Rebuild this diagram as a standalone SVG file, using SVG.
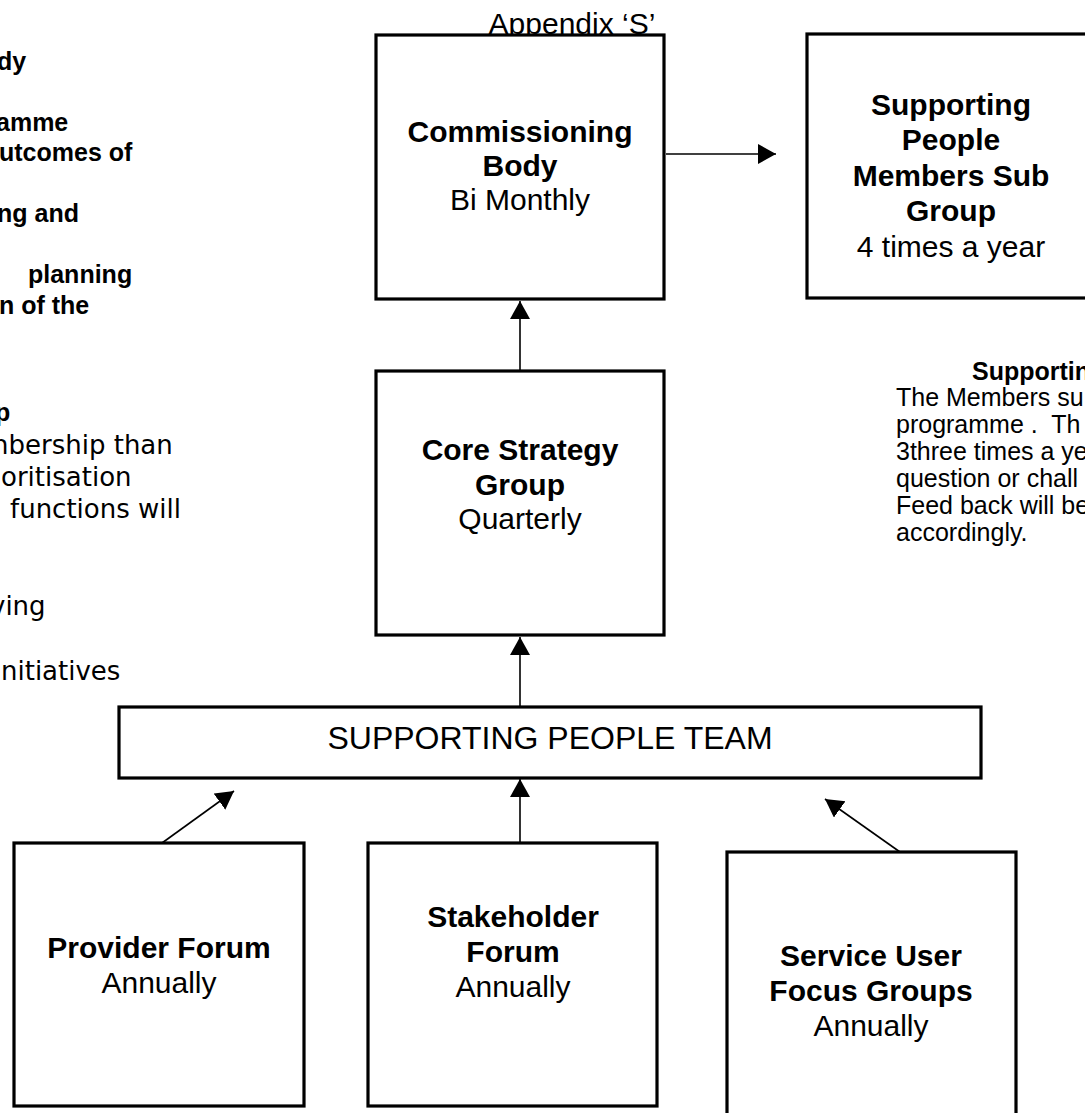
<svg xmlns="http://www.w3.org/2000/svg" width="1085" height="1113" viewBox="0 0 1085 1113">
<defs>
<style>
.box{fill:#fff;stroke:#000;stroke-width:3.2}
.con{fill:none;stroke:#000;stroke-width:1.6}
.h{font-family:"Liberation Sans",Arial,sans-serif;font-weight:bold;font-size:30px;fill:#000;text-anchor:middle}
.r{font-family:"Liberation Sans",Arial,sans-serif;font-size:30px;fill:#000;text-anchor:middle}
.lb{font-family:"Liberation Sans",Arial,sans-serif;font-weight:bold;font-size:25px;fill:#000}
.lr{font-family:"DejaVu Sans",Verdana,sans-serif;font-size:26px;fill:#000}
.rr{font-family:"Liberation Sans",Arial,sans-serif;font-size:25px;fill:#000}
</style>
<marker id="ah" markerUnits="userSpaceOnUse" markerWidth="20" markerHeight="22" refX="18" refY="10" orient="auto">
<path d="M0,0 L18,10 L0,20 Z" fill="#000"/>
</marker>
</defs>
<rect width="1085" height="1113" fill="#fff"/>

<g id="left-text">
<text class="lb" x="-3" y="70">dy</text>
<text class="lb" x="-4" y="131">amme</text>
<text class="lb" x="-1" y="161">utcomes of</text>
<text class="lb" x="-3" y="222">ng and</text>
<text class="lb" x="28" y="283">planning</text>
<text class="lb" x="-1" y="314">n of the</text>
<text class="lb" x="-5" y="421">p</text>
<text class="lr" x="-8" y="454">nbership than</text>
<text class="lr" x="1" y="486">oritisation</text>
<text class="lr" x="10" y="518">functions will</text>
<text class="lr" x="-10" y="615">ving</text>
<text class="lr" x="1" y="680">nitiatives</text>
</g>

<g id="right-text">
<text class="lb" x="972" y="380">Supportin</text>
<text class="rr" x="896" y="406">The Members su</text>
<text class="rr" x="896" y="433" xml:space="preserve">programme .  Th</text>
<text class="rr" x="896" y="460">3three times a ye</text>
<text class="rr" x="896" y="487">question or chall</text>
<text class="rr" x="896" y="514">Feed back will be</text>
<text class="rr" x="896" y="541">accordingly.</text>
</g>

<text class="r" x="572" y="34">Appendix ‘S’</text>

<g id="connectors">
<line class="con" x1="666" y1="154" x2="776" y2="154" marker-end="url(#ah)"/>
<line class="con" x1="520" y1="371" x2="520" y2="301" marker-end="url(#ah)"/>
<line class="con" x1="520" y1="707" x2="520" y2="637" marker-end="url(#ah)"/>
<line class="con" x1="520" y1="843" x2="520" y2="779" marker-end="url(#ah)"/>
<line class="con" x1="162" y1="843" x2="234" y2="791" marker-end="url(#ah)"/>
<line class="con" x1="900" y1="852" x2="825" y2="799" marker-end="url(#ah)"/>
</g>

<g id="commissioning-body">
<rect class="box" x="376" y="35" width="288" height="264"/>
<text class="h" x="520" y="142">Commissioning</text>
<text class="h" x="520" y="176">Body</text>
<text class="r" x="520" y="210">Bi Monthly</text>
</g>

<g id="members-sub-group">
<rect class="box" x="807" y="34" width="288" height="264"/>
<text class="h" x="951" y="115">Supporting</text>
<text class="h" x="951" y="150">People</text>
<text class="h" x="951" y="186">Members Sub</text>
<text class="h" x="951" y="221">Group</text>
<text class="r" x="951" y="257">4 times a year</text>
</g>

<g id="core-strategy-group">
<rect class="box" x="376" y="371" width="288" height="264"/>
<text class="h" x="520" y="460">Core Strategy</text>
<text class="h" x="520" y="495">Group</text>
<text class="r" x="520" y="529">Quarterly</text>
</g>

<g id="supporting-people-team">
<rect class="box" x="119" y="707" width="862" height="71"/>
<text class="r" x="550" y="749" style="font-size:32px">SUPPORTING PEOPLE TEAM</text>
</g>

<g id="provider-forum">
<rect class="box" x="14" y="843" width="290" height="263"/>
<text class="h" x="159" y="958">Provider Forum</text>
<text class="r" x="159" y="993">Annually</text>
</g>

<g id="stakeholder-forum">
<rect class="box" x="368" y="843" width="289" height="263"/>
<text class="h" x="513" y="927">Stakeholder</text>
<text class="h" x="513" y="962">Forum</text>
<text class="r" x="513" y="997">Annually</text>
</g>

<g id="service-user-focus-groups">
<rect class="box" x="727" y="852" width="289" height="263"/>
<text class="h" x="871" y="966">Service User</text>
<text class="h" x="871" y="1001">Focus Groups</text>
<text class="r" x="871" y="1036">Annually</text>
</g>
</svg>
